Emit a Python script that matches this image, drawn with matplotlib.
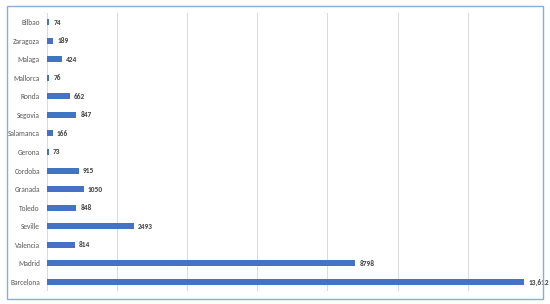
import matplotlib
matplotlib.use('Agg')
import matplotlib.pyplot as plt
from matplotlib.patches import Rectangle

cities = ['Bilbao', 'Zaragoza', 'Malaga', 'Mallorca', 'Ronda', 'Segovia', 'Salamanca',
          'Gerona', 'Cordoba', 'Granada', 'Toledo', 'Seville', 'Valencia', 'Madrid', 'Barcelona']
values = [74, 189, 424, 76, 662, 847, 166, 73, 915, 1050, 848, 2493, 814, 8798, 13612]
labels = ['74', '189', '424', '76', '662', '847', '166', '73', '915', '1050', '848',
          '2493', '814', '8798', '13,612']

plt.rcParams['font.family'] = ['Carlito', 'Liberation Sans', 'DejaVu Sans']

fig = plt.figure(figsize=(5.5, 3.04), dpi=100)
ax = fig.add_axes([0.085, 0.042, 0.893, 0.916])

pos = list(range(len(cities)))
ax.barh(pos, values, height=0.33, color='#4472c4')
for p, v, t in zip(pos, values, labels):
    ax.text(v + 110, p, t, va='center', ha='left', fontsize=5.3, fontweight='bold', color='#404040')

ax.set_yticks(pos)
ax.set_yticklabels(cities, fontsize=5.3, color='#595959')
ax.tick_params(axis='y', length=0, pad=5)
ax.set_ylim(len(cities) - 0.5, -0.5)
ax.set_xlim(0, 14000)
ax.set_xticks(range(0, 14001, 2000))
ax.tick_params(axis='x', length=0, labelbottom=False)
ax.grid(axis='x', color='#d9d9d9', linewidth=0.7)
ax.set_axisbelow(True)
for s in ax.spines.values():
    s.set_visible(False)

# outer chart border
fig.patches.append(Rectangle((7 / 550, 5 / 304), 536 / 550, 293 / 304, transform=fig.transFigure,
                             fill=False, edgecolor='#8eaadb', linewidth=1.0))

fig.savefig('out.png', dpi=100)
